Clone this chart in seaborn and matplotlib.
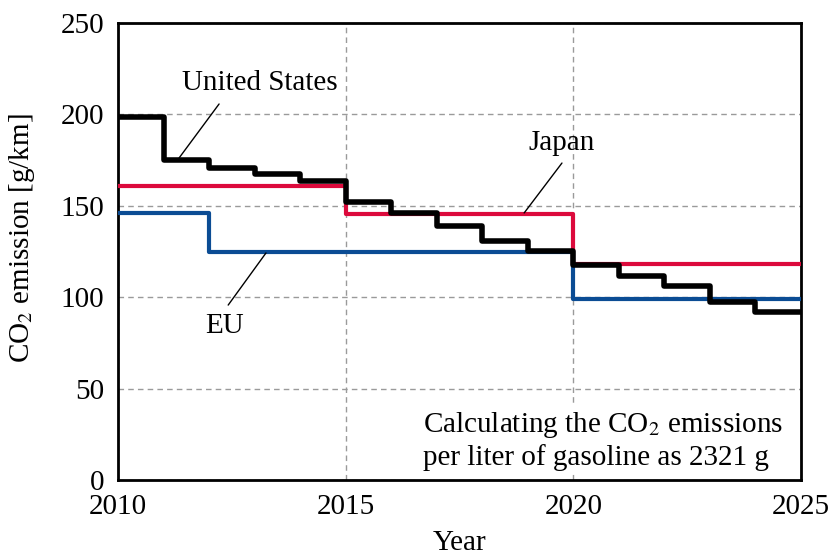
import matplotlib
matplotlib.use("Agg")
import matplotlib.pyplot as plt
import seaborn as sns
import pandas as pd

# Fuel-economy based CO2 targets (g/km), one value per model year
years = list(range(2010, 2026))
us_values = [198.7, 175, 170.5, 167.4, 163.7, 151.9, 145.9, 139, 131, 125.3,
             117.6, 111.6, 106.1, 97.5, 92.1, 92.1]
japan_values = [160.8] * 5 + [145.3] * 5 + [118] * 6
eu_values = [146] * 2 + [125] * 8 + [98.9] * 6

sns.set_theme(style="white")
plt.rcParams["font.family"] = ["Liberation Serif", "DejaVu Serif"]
plt.rcParams["mathtext.fontset"] = "stix"
plt.rcParams["text.color"] = "black"
plt.rcParams["axes.labelcolor"] = "black"

df = pd.concat([
    pd.DataFrame({"Year": years, "CO2": japan_values, "Region": "Japan"}),
    pd.DataFrame({"Year": years, "CO2": eu_values, "Region": "EU"}),
    pd.DataFrame({"Year": years, "CO2": us_values, "Region": "United States"}),
])

palette = {"Japan": "#DC0A3C", "EU": "#0B4C94", "United States": "#000000"}
widths = {"Japan": 3.0, "EU": 3.0, "United States": 4.0}

fig = plt.figure(figsize=(8.35, 5.57), dpi=100)
ax = fig.add_axes([0.1413, 0.1382, 0.8180, 0.8205])

for region in ["Japan", "EU", "United States"]:
    sub = df[df["Region"] == region]
    sns.lineplot(data=sub, x="Year", y="CO2", ax=ax, color=palette[region],
                 linewidth=widths[region], drawstyle="steps-post",
                 legend=False, zorder=3)

ax.set_xlim(2010, 2025)
ax.set_ylim(0, 250)
ax.set_xticks([2010, 2015, 2020, 2025])
ax.set_yticks([0, 50, 100, 150, 200, 250])
ax.tick_params(axis="both", labelsize=21, length=0, pad=10, colors="black")
ax.grid(True, color="#9A9A9A", linestyle=(0, (4, 3)), linewidth=1.0)
for s in ax.spines.values():
    s.set_color("black")
    s.set_linewidth(2.0)
    s.set_visible(True)

ax.set_xlabel("Year", fontsize=21, labelpad=7)
ax.set_ylabel("CO$_2$ emission [g/km]", fontsize=21)
ax.yaxis.set_label_coords(-0.118, 0.53)

# Region labels with leader lines
labels = [
    ("United States", (2013.11, 217.2), (2012.22, 205.7), (2011.34, 176.1)),
    ("Japan", (2019.75, 184.4), (2019.75, 173.4), (2018.92, 146.1)),
    ("EU", (2012.33, 84.2), (2013.25, 124.2), (2012.42, 95.7)),
]
for name, text_pos, start, end in labels:
    ax.text(*text_pos, name, fontsize=21, ha="center", va="center")
    ax.annotate("", xy=end, xytext=start,
                arrowprops=dict(arrowstyle="-", color="black", lw=1.0,
                                shrinkA=0, shrinkB=0))

ax.text(2016.70, 21.6,
        "Calculating the CO$_2$ emissions\nper liter of gasoline as 2321 g",
        fontsize=21, ha="left", va="center", linespacing=1.15,
        bbox=dict(facecolor="white", edgecolor="none", pad=2), zorder=4)

fig.savefig("out.png", dpi=100)
